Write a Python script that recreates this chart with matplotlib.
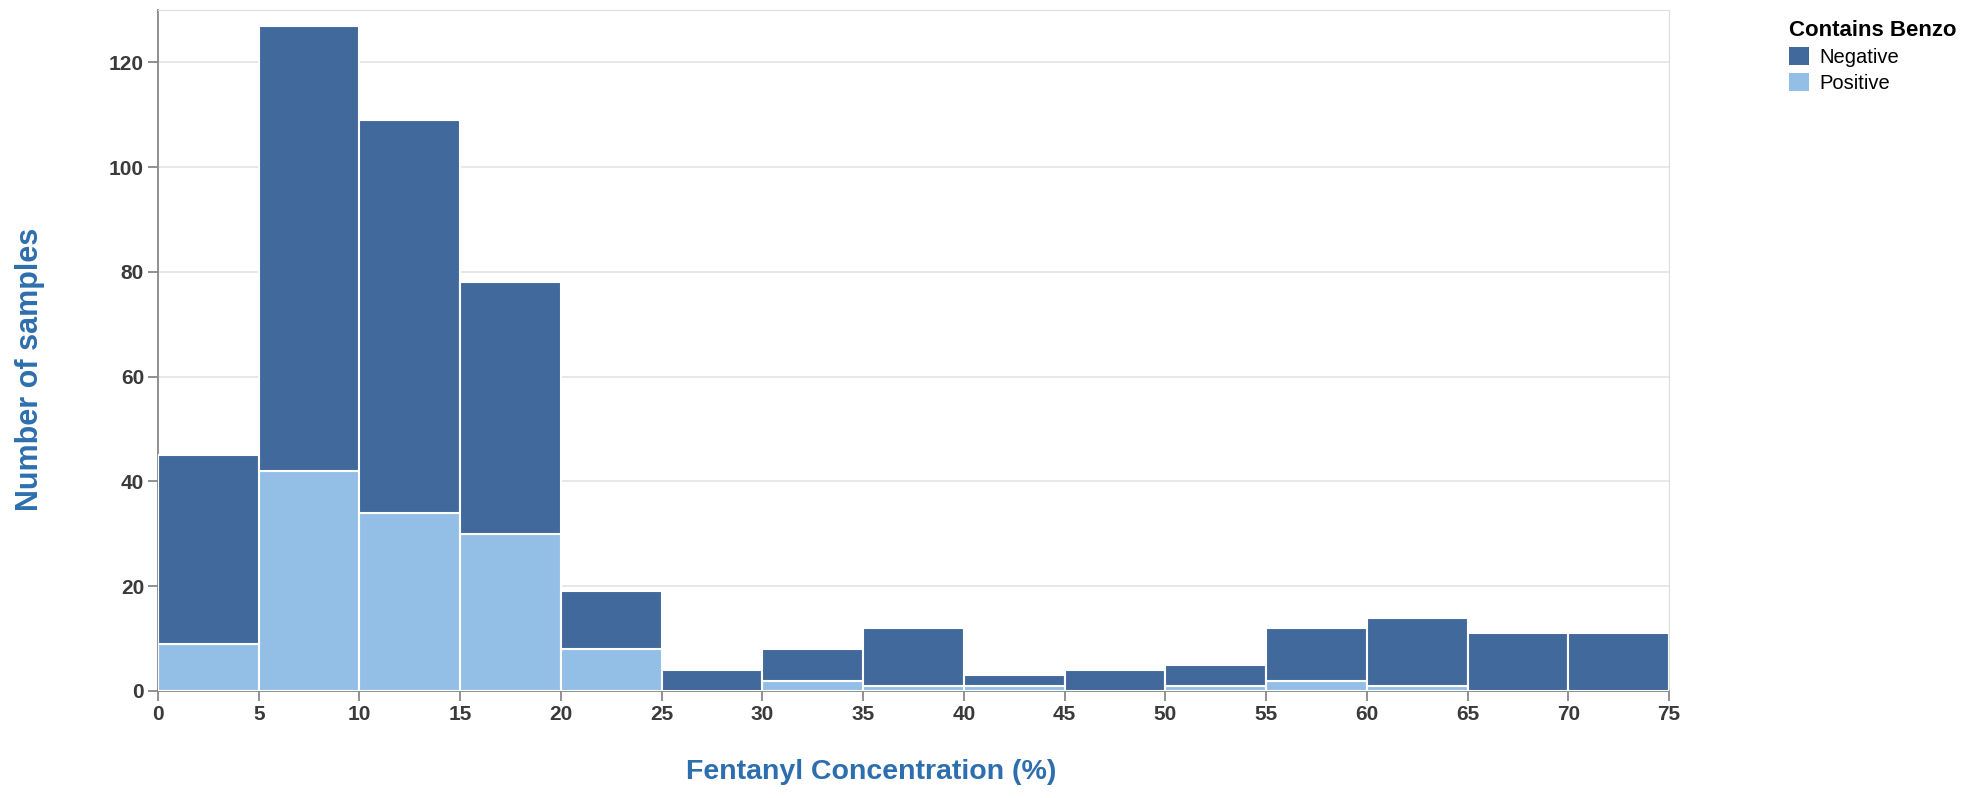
import numpy as np
import matplotlib
matplotlib.use("Agg")
import matplotlib.pyplot as plt
from matplotlib.patches import Patch

plt.rcParams['font.family'] = ['Liberation Sans', 'DejaVu Sans']

# histogram bins (fentanyl concentration, %)
bin_edges = [0, 5, 10, 15, 20, 25, 30, 35, 40, 45, 50, 55, 60, 65, 70, 75]
# counts per bin
positive = [9, 42, 34, 30, 8, 0, 2, 1, 1, 0, 1, 2, 1, 0, 0]
negative_total = [45, 127, 109, 78, 19, 4, 8, 12, 3, 4, 5, 12, 14, 11, 11]
negative = [t - p for t, p in zip(negative_total, positive)]

x_ticks = list(range(0, 80, 5))
y_ticks = list(range(0, 140, 20))

dark = '#41699c'
light = '#93bfe6'
label_blue = '#2d6fae'
grey = '#888888'

W, H = 1985, 798
fig = plt.figure(figsize=(W / 100, H / 100), dpi=100)
ax = fig.add_axes([158 / W, 1 - 691 / H, (1669 - 158) / W, (691 - 10) / H])

left = np.array(bin_edges[:-1])
widths = np.diff(bin_edges)
ax.bar(left, positive, width=widths, align='edge', color=light,
       edgecolor='white', linewidth=1.5, zorder=3)
ax.bar(left, negative, width=widths, bottom=positive, align='edge', color=dark,
       edgecolor='white', linewidth=1.5, zorder=3)

ax.set_xlim(0, 75)
ax.set_ylim(0, 130)
ax.set_xticks(x_ticks)
ax.set_yticks(y_ticks)
ax.grid(axis='y', color='#e4e4e4', linewidth=1.2, zorder=0)

for s in ['top', 'right']:
    ax.spines[s].set_color('#dddddd')
for s in ['left', 'bottom']:
    ax.spines[s].set_color(grey)
    ax.spines[s].set_linewidth(1.3)
ax.tick_params(axis='both', colors=grey, labelcolor='#3a3a3a', labelsize=15,
               length=7, width=1.3, pad=3)
for lab in ax.get_xticklabels() + ax.get_yticklabels():
    lab.set_fontweight('bold')

# axis titles
fig.text(871 / W, 1 - 772 / H, 'Fentanyl Concentration (%)', color=label_blue,
         fontsize=20.5, fontweight='bold', ha='center', va='center')
fig.text(30 / W, 1 - 369 / H, 'Number of samples', color=label_blue,
         fontsize=22, fontweight='bold', ha='center', va='center', rotation=90)

handles = [Patch(facecolor=dark, label='Negative'),
           Patch(facecolor=light, label='Positive')]
leg = fig.legend(handles=handles, title='Contains Benzo', loc='upper left',
                 bbox_to_anchor=(1789 / W, 1 - 20 / H), frameon=False,
                 fontsize=14.5, title_fontproperties={'weight': 'bold', 'size': 16},
                 handlelength=1.0, handleheight=1.0, handletextpad=0.5,
                 labelspacing=0.3, borderpad=0, borderaxespad=0)
leg._legend_box.align = 'left'

fig.savefig('out.png', dpi=100)
